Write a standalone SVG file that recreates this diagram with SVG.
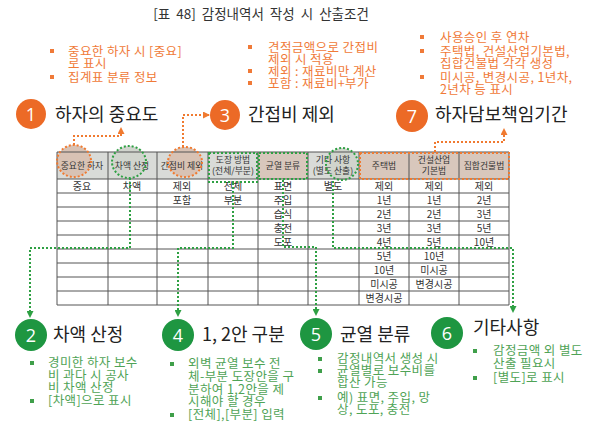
<svg xmlns="http://www.w3.org/2000/svg" width="600" height="429" viewBox="0 0 600 429">
<style>
text{font-family:"Noto Sans CJK KR","Noto Sans",sans-serif}
.title{font-size:13.5px;fill:#333;word-spacing:3px}
.head{font-size:18px;fill:#222}
.num{font-size:18px;fill:#fff;font-family:"Open Sans","Noto Sans",sans-serif}
.ob{font-size:12.5px;fill:#f07a38;letter-spacing:0.4px}
.gb{font-size:12.5px;fill:#4fa356;letter-spacing:0.4px}
.cell{font-size:10px;fill:#333;text-anchor:middle}
.hc{font-size:8.8px;fill:#333;text-anchor:middle}
.grid{stroke:#555;stroke-width:1;fill:none}
.oc{fill:#ec6a26}
.gc{fill:#1e9641}
.od{stroke:#f07a30;stroke-width:2;stroke-dasharray:2 2;fill:none}
.gd{stroke:#2ea043;stroke-width:2;stroke-dasharray:2 2;fill:none}
.osq{fill:#f07a38}
.gsq{fill:#3f9f4a}
</style>
<defs>
<marker id="ao" markerUnits="userSpaceOnUse" markerWidth="7" markerHeight="7" refX="6" refY="3.5" orient="auto"><path d="M0,0 L7,3.5 L0,7 z" fill="#f07a30"/></marker>
<marker id="ag" markerUnits="userSpaceOnUse" markerWidth="7" markerHeight="7" refX="6" refY="3.5" orient="auto"><path d="M0,0 L7,3.5 L0,7 z" fill="#2ea043"/></marker>
</defs>
<rect width="600" height="429" fill="#fff"/>
<text class="title" x="261" y="19" text-anchor="middle">[표 48] 감정내역서 작성 시 산출조건</text>

<g id="table">
<rect x="57" y="152" width="201" height="27" fill="#d9dbd8"/>
<rect x="258" y="152" width="50" height="27" fill="#d8c7bc"/>
<rect x="308" y="152" width="51" height="27" fill="#d9dbd8"/>
<rect x="359" y="152" width="150" height="27" fill="#d8c7bc"/>
<ellipse cx="74" cy="161" rx="17" ry="16" fill="#d8c2b4"/>
<ellipse cx="129" cy="162" rx="17" ry="16" fill="#d0d4cd"/>
<ellipse cx="185" cy="162" rx="17" ry="15" fill="#d8c2b4"/>
<ellipse cx="342" cy="164" rx="16" ry="16" fill="#d0d4cd"/>
<path class="grid" d="M57,152H509V305H57Z M57,179H509 M57,193H509 M57,207H509 M57,221H509 M57,235H509 M57,249H509 M57,263H509 M57,277H509 M57,291H509 M108,152V305 M157,152V305 M208,152V305 M258,152V305 M308,152V305 M359,152V305 M409,152V305 M459,152V305"/>
<text class="hc" x="82" y="169">중요한 하자</text>
<text class="hc" x="132" y="169">차액 산정</text>
<text class="hc" x="182" y="169">간접비 제외</text>
<text class="hc" x="233" y="163">도장 방법</text>
<text class="hc" x="233" y="174">(전체/부분)</text>
<text class="hc" x="283" y="169">균열 분류</text>
<text class="hc" x="333" y="163">기타 사항</text>
<text class="hc" x="333" y="174">(별도 산출)</text>
<text class="hc" x="384" y="169">주택법</text>
<text class="hc" x="434" y="163">건설산업</text>
<text class="hc" x="434" y="174">기본법</text>
<text class="hc" x="484" y="169">집합건물법</text>
<g>
<text class="cell" x="82" y="190">중요</text>
<text class="cell" x="132" y="190">차액</text>
<text class="cell" x="182" y="190">제외</text>
<text class="cell" x="182" y="204">포함</text>
<text class="cell" x="233" y="190">전체</text>
<text class="cell" x="233" y="204">부분</text>
<text class="cell" x="283" y="190">표면</text>
<text class="cell" x="283" y="204">주입</text>
<text class="cell" x="283" y="218">습식</text>
<text class="cell" x="283" y="232">충전</text>
<text class="cell" x="283" y="246">도포</text>
<text class="cell" x="333" y="190">별도</text>
<text class="cell" x="384" y="190">제외</text>
<text class="cell" x="384" y="204">1년</text>
<text class="cell" x="384" y="218">2년</text>
<text class="cell" x="384" y="232">3년</text>
<text class="cell" x="384" y="246">4년</text>
<text class="cell" x="384" y="260">5년</text>
<text class="cell" x="384" y="274">10년</text>
<text class="cell" x="384" y="288">미시공</text>
<text class="cell" x="384" y="302">변경시공</text>
<text class="cell" x="434" y="190">제외</text>
<text class="cell" x="434" y="204">1년</text>
<text class="cell" x="434" y="218">2년</text>
<text class="cell" x="434" y="232">3년</text>
<text class="cell" x="434" y="246">5년</text>
<text class="cell" x="434" y="260">10년</text>
<text class="cell" x="434" y="274">미시공</text>
<text class="cell" x="434" y="288">변경시공</text>
<text class="cell" x="484" y="190">제외</text>
<text class="cell" x="484" y="204">2년</text>
<text class="cell" x="484" y="218">3년</text>
<text class="cell" x="484" y="232">5년</text>
<text class="cell" x="484" y="246">10년</text>
</g>
<ellipse class="od" cx="74" cy="161" rx="17" ry="16"/>
<ellipse class="gd" cx="129" cy="162" rx="17" ry="16"/>
<ellipse class="od" cx="185" cy="162" rx="17" ry="15"/>
<rect class="gd" x="209" y="153" width="48" height="29"/>
<rect class="gd" x="259" y="153" width="48" height="26"/>
<ellipse class="gd" cx="342" cy="164" rx="16" ry="16"/>
<rect class="od" x="360" y="153" width="149" height="26"/>
</g>

<g id="connectors">
<path class="od" d="M74,145V136H121V128" marker-end="url(#ao)"/>
<path class="od" d="M183,147V115H209" marker-end="url(#ao)"/>
<path class="od" d="M435,152V142H504V129" marker-end="url(#ao)"/>
<path class="gd" d="M130,178V248H30V317" marker-end="url(#ag)"/>
<path class="gd" d="M233,183V248H178V316" marker-end="url(#ag)"/>
<path class="gd" d="M283,180V247H316V315" marker-end="url(#ag)"/>
<path class="gd" d="M333,181V248H513V312" marker-end="url(#ag)"/>
</g>

<g id="node1">
<rect class="osq" x="50" y="49" width="4" height="4"/>
<text class="ob" x="68" y="56">중요한 하자 시 [중요]</text>
<text class="ob" x="68" y="68">로 표시</text>
<rect class="osq" x="50" y="75" width="4" height="4"/>
<text class="ob" x="68" y="82">집계표 분류 정보</text>
<circle class="oc" cx="31" cy="114" r="15"/>
<text class="num" x="31" y="120.5" text-anchor="middle">1</text>
<text class="head" x="55" y="121">하자의 중요도</text>
</g>

<g id="node3">
<rect class="osq" x="248" y="45" width="4" height="4"/>
<text class="ob" x="268" y="52">견적금액으로 간접비</text>
<text class="ob" x="268" y="64">제외 시 적용</text>
<rect class="osq" x="248" y="69" width="4" height="4"/>
<text class="ob" x="268" y="76">제외 : 재료비만 계산</text>
<rect class="osq" x="248" y="81" width="4" height="4"/>
<text class="ob" x="268" y="88">포함 : 재료비+부가</text>
<circle class="oc" cx="225" cy="115" r="15"/>
<text class="num" x="225" y="121.5" text-anchor="middle">3</text>
<text class="head" x="248" y="121">간접비 제외</text>
</g>

<g id="node7">
<rect class="osq" x="420" y="35" width="4" height="4"/>
<text class="ob" x="440" y="42">사용승인 후 연차</text>
<rect class="osq" x="420" y="49" width="4" height="4"/>
<text class="ob" x="440" y="56">주택법, 건설산업기본법,</text>
<text class="ob" x="440" y="68">집합건물법 각각 생성</text>
<rect class="osq" x="420" y="75" width="4" height="4"/>
<text class="ob" x="440" y="82">미시공, 변경시공, 1년차,</text>
<text class="ob" x="440" y="94">2년차 등 표시</text>
<circle class="oc" cx="412" cy="116" r="16"/>
<text class="num" x="412" y="122.5" text-anchor="middle">7</text>
<text class="head" x="435" y="121">하자담보책임기간</text>
</g>

<g id="node2">
<circle class="gc" cx="31" cy="335" r="16"/>
<text class="num" x="31" y="341.5" text-anchor="middle">2</text>
<text class="head" x="53" y="341">차액 산정</text>
<rect class="gsq" x="30" y="361" width="4" height="4"/>
<text class="gb" x="48" y="367">경미한 하자 보수</text>
<text class="gb" x="48" y="380">비 과다 시 공사</text>
<text class="gb" x="48" y="392">비 차액 산정</text>
<rect class="gsq" x="30" y="399" width="4" height="4"/>
<text class="gb" x="48" y="405">[차액]으로 표시</text>
</g>

<g id="node4">
<circle class="gc" cx="178" cy="335" r="16"/>
<text class="num" x="178" y="341.5" text-anchor="middle">4</text>
<text class="head" x="202" y="341">1, 2안 구분</text>
<rect class="gsq" x="170" y="362" width="4" height="4"/>
<text class="gb" x="188" y="368">외벽 균열 보수 전</text>
<text class="gb" x="188" y="381">체-부분 도장안을 구</text>
<text class="gb" x="188" y="394">분하여 1,2안을 제</text>
<text class="gb" x="188" y="406">시해야 할 경우</text>
<rect class="gsq" x="170" y="413" width="4" height="4"/>
<text class="gb" x="188" y="419">[전체],[부분] 입력</text>
</g>

<g id="node5">
<circle class="gc" cx="316" cy="334" r="16"/>
<text class="num" x="316" y="340.5" text-anchor="middle">5</text>
<text class="head" x="340" y="341">균열 분류</text>
<rect class="gsq" x="318" y="357" width="4" height="4"/>
<text class="gb" x="337" y="363">감정내역서 생성 시</text>
<rect class="gsq" x="318" y="369" width="4" height="4"/>
<text class="gb" x="337" y="375">균열별로 보수비를</text>
<text class="gb" x="337" y="387">합산 가능</text>
<rect class="gsq" x="318" y="396" width="4" height="4"/>
<text class="gb" x="337" y="402">예) 표면, 주입, 망</text>
<text class="gb" x="337" y="414">상, 도포, 충전</text>
</g>

<g id="node6">
<circle class="gc" cx="447" cy="333" r="16"/>
<text class="num" x="447" y="339.5" text-anchor="middle">6</text>
<text class="head" x="473" y="334">기타사항</text>
<rect class="gsq" x="473" y="349" width="4" height="4"/>
<text class="gb" x="493" y="355">감정금액 외 별도</text>
<text class="gb" x="493" y="368">산출 필요시</text>
<rect class="gsq" x="473" y="376" width="4" height="4"/>
<text class="gb" x="493" y="382">[별도]로 표시</text>
</g>
</svg>
